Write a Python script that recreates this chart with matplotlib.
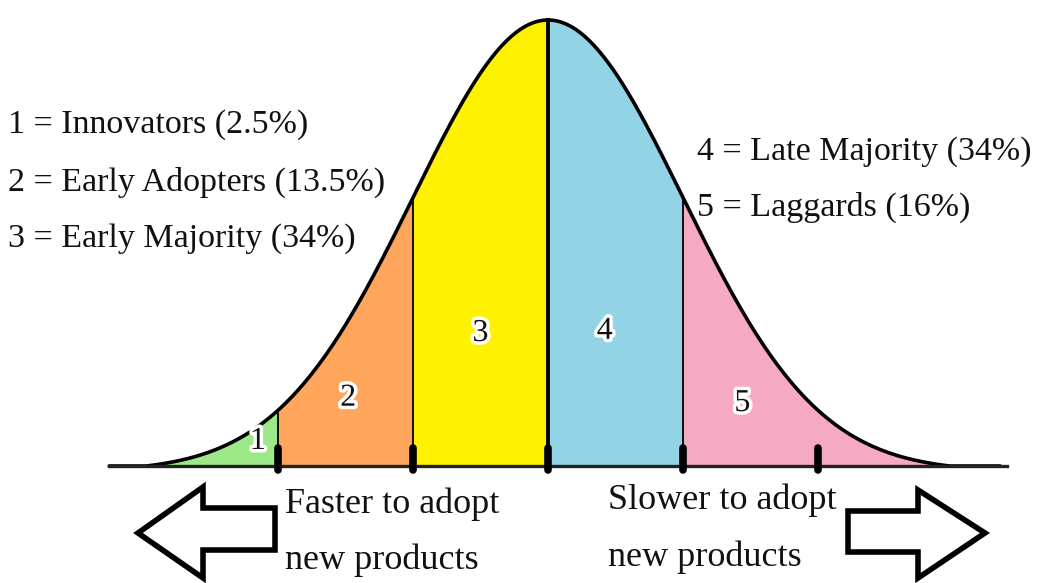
import numpy as np
import matplotlib.pyplot as plt
from matplotlib.patches import Polygon
import matplotlib.patheffects as pe

# Adopter categories (boundaries in standard deviations)
bounds = [-3.3, -2, -1, 0, 1, 3.4]
numbers = ['1', '2', '3', '4', '5']
colores = ['#9de888', '#ffa65c', '#fff200', '#92d3e6', '#f6a9c3']
num_pos = [(-2.15, 0.055), (-1.48, 0.152), (-0.5, 0.297), (0.42, 0.302), (1.44, 0.14)]
ticks = [-2, -1, 0, 1, 2]

left_labels = ['1 = Innovators (2.5%)', '2 = Early Adopters (13.5%)', '3 = Early Majority (34%)']
right_labels = ['4 = Late Majority (34%)', '5 = Laggards (16%)']

# pixel mapping: mean at x=548, sigma=135 px, baseline y=466, peak height 446 px
W, H = 1046, 583
mx, sig, by, hh = 548, 135, 466, 446

fig = plt.figure(figsize=(W / 100, H / 100), dpi=100)
ax = fig.add_axes([0, 0, 1, 1])
ax.set_xlim(-mx / sig, (W - mx) / sig)
ax.set_ylim((by - H) / hh, by / hh)
ax.axis('off')

# bell curve, tails pulled down a little so they meet the base line like the drawing
def gauss(x):
  return np.clip((np.exp(-x ** 2 / 2) - 0.012) / 0.988, 0, None)

for i in range(len(colores)):
  x = np.linspace(bounds[i], bounds[i + 1], 200)
  ax.fill_between(x, 0, gauss(x), color=colores[i], lw=0)

# division lines
for b in [-2, -1, 1]:
  ax.plot([b, b], [0, gauss(b)], color='black', lw=1.3)
ax.plot([0, 0], [0, 1], color='black', lw=2.8)

x = np.linspace(-3.25, 3.35, 600)
ax.plot(x, gauss(x), color='black', lw=2.6, solid_capstyle='round')
ax.plot([-3.25, 3.4], [0, 0], color='#222222', lw=2.4)

for t in ticks:
  ax.plot([t, t], [-0.01, 0.04], color='black', lw=5.5, solid_capstyle='round')

font = 'Liberation Serif'
for n, (px, py) in zip(numbers, num_pos):
  ax.text(px, py, n, fontsize=23, family=font, ha='center', va='center', color='#111111',
          path_effects=[pe.withStroke(linewidth=5, foreground='white')])

for i, lab in enumerate(left_labels):
  fig.text(8 / W, 1 - (125 + 57 * i) / H, lab, fontsize=24.5, family=font, va='center', color='#111111')
for i, lab in enumerate(right_labels):
  fig.text(697 / W, 1 - (152 + 55 * i) / H, lab, fontsize=24.5, family=font, va='center', color='#111111')

fig.text(285 / W, 1 - 504 / H, 'Faster to adopt', fontsize=26, family=font, va='center', color='#111111')
fig.text(285 / W, 1 - 560 / H, 'new products', fontsize=26, family=font, va='center', color='#111111')
fig.text(608 / W, 1 - 500 / H, 'Slower to adopt', fontsize=26, family=font, va='center', color='#111111')
fig.text(608 / W, 1 - 557 / H, 'new products', fontsize=26, family=font, va='center', color='#111111')

# outline arrows (pixel coordinates)
def arrow(pts):
  pts = [(px / W, 1 - py / H) for px, py in pts]
  fig.patches.append(Polygon(pts, closed=True, facecolor='white', edgecolor='black',
                             lw=4, joinstyle='miter', transform=fig.transFigure))

arrow([(138, 533), (203, 487), (203, 508), (275, 508), (275, 550), (203, 550), (203, 578)])
arrow([(985, 533), (918, 490), (918, 511), (848, 511), (848, 552), (918, 552), (918, 578)])

plt.savefig('out.png', dpi=100)
